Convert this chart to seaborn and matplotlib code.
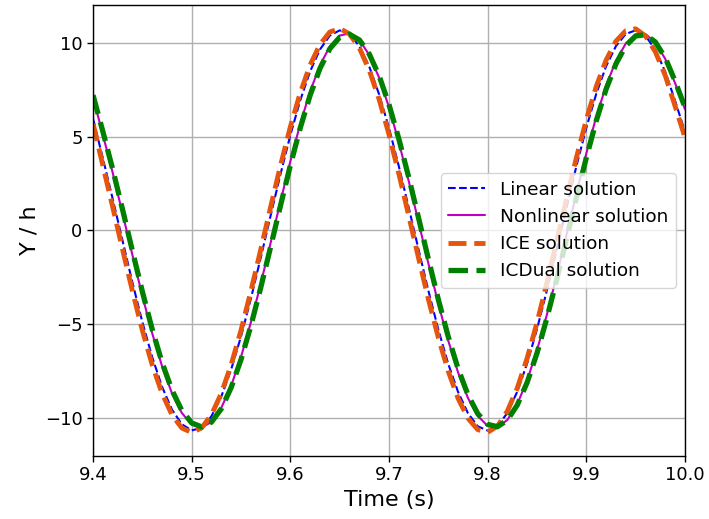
import numpy as np
import pandas as pd
import matplotlib
matplotlib.use("Agg")
import matplotlib.pyplot as plt
import seaborn as sns

# time samples (s), every 0.01 s from 9.40 to 10.00
time_s = np.round(np.linspace(9.40, 10.00, 61), 2)

linear_solution = [
    5.95, 3.84, 1.67, -0.56, -2.78, -4.87, -6.74, -8.32, -9.53, -10.31,
    -10.64, -10.50, -9.89, -8.84, -7.40, -5.64, -3.63, -1.45, 0.79, 2.99,
    5.07, 6.92, 8.46, 9.63, 10.37, 10.65, 10.46, 9.80, 8.72, 7.24,
    5.45, 3.41, 1.22, -1.02, -3.22, -5.27, -7.09, -8.59, -9.72, -10.42,
    -10.65, -10.41, -9.71, -8.58, -7.08, -5.25, -3.20, -1.00, 1.24, 3.43,
    5.46, 7.26, 8.73, 9.81, 10.46, 10.65, 10.36, 9.62, 8.45, 6.90,
    5.25,
]

nonlinear_solution = [
    7.10, 5.09, 3.06, 0.89, -1.32, -3.48, -5.47, -7.23, -8.66, -9.71,
    -10.33, -10.49, -10.19, -9.44, -8.27, -6.73, -4.89, -2.84, -0.66, 1.54,
    3.68, 5.66, 7.39, 8.79, 9.79, 10.37, 10.49, 10.14, 9.34, 8.13,
    6.56, 4.69, 2.63, 0.44, -1.77, -3.89, -5.85, -7.55, -8.91, -9.87,
    -10.40, -10.47, -10.08, -9.24, -7.98, -6.38, -4.49, -2.41, -0.22, 1.99,
    4.10, 6.03, 7.70, 9.02, 9.95, 10.43, 10.45, 10.01, 9.13, 7.84,
    6.45,
]

ice_solution = [
    5.70, 3.45, 1.24, -1.02, -3.23, -5.31, -7.15, -8.67, -9.81, -10.51,
    -10.75, -10.51, -9.81, -8.67, -7.15, -5.31, -3.23, -1.02, 1.24, 3.45,
    5.51, 7.32, 8.80, 9.90, 10.56, 10.75, 10.46, 9.71, 8.53, 6.98,
    5.11, 3.02, 0.79, -1.47, -3.67, -5.70, -7.48, -8.93, -9.99, -10.60,
    -10.74, -10.41, -9.61, -8.39, -6.80, -4.91, -2.80, -0.56, 1.70, 3.88,
    5.89, 7.65, 9.06, 10.07, 10.63, 10.73, 10.35, 9.51, 8.25, 6.62,
    4.95,
]

icdual_solution = [
    7.20, 5.26, 3.25, 1.10, -1.10, -3.25, -5.26, -7.03, -8.49, -9.58,
    -10.24, -10.45, -10.20, -9.49, -8.36, -6.87, -5.07, -3.04, -0.88, 1.32,
    3.46, 5.45, 7.19, 8.62, 9.67, 10.28, 10.44, 10.14, 9.39, 8.23,
    6.70, 4.87, 2.83, 0.66, -1.54, -3.67, -5.64, -7.35, -8.74, -9.75,
    -10.32, -10.44, -10.09, -9.29, -8.09, -6.53, -4.67, -2.61, -0.44, 1.76,
    3.87, 5.82, 7.51, 8.86, 9.83, 10.35, 10.42, 10.03, 9.19, 7.95,
    6.55,
]

series_labels = ["Linear solution", "Nonlinear solution", "ICE solution", "ICDual solution"]
x_ticks = [9.4, 9.5, 9.6, 9.7, 9.8, 9.9, 10.0]
y_ticks = [-10, -5, 0, 5, 10]

sns.set_style("white")
plt.rcParams["font.family"] = ["DejaVu Sans"]
plt.rcParams["axes.unicode_minus"] = True
plt.rcParams["text.color"] = "black"
plt.rcParams["axes.labelcolor"] = "black"

fig = plt.figure(figsize=(7.09, 5.19), dpi=100)
ax = fig.add_axes([0.1312, 0.1214, 0.8349, 0.8690])

styles = [
    dict(color="blue", linestyle="--", linewidth=1.5),
    dict(color="m", linestyle="-", linewidth=1.5),
    dict(color="#e6550d", linestyle="--", linewidth=3.5),
    dict(color="green", linestyle="--", linewidth=3.8),
]
all_series = [linear_solution, nonlinear_solution, ice_solution, icdual_solution]

for lab, vals, st in zip(series_labels, all_series, styles):
    df = pd.DataFrame({"t": time_s, "y": vals})
    sns.lineplot(data=df, x="t", y="y", ax=ax, label=lab, **st)

ax.set_xlim(9.4, 10.0)
ax.set_ylim(-12, 12)
ax.set_xticks(x_ticks)
ax.set_xticklabels([f"{v:.1f}" for v in x_ticks])
ax.set_yticks(y_ticks)
ax.tick_params(axis="both", which="major", bottom=True, left=True, labelsize=13,
               direction="out", length=4, width=1, colors="black")
ax.grid(True, color="#b0b0b0", linewidth=1.0)
for sp in ax.spines.values():
    sp.set_color("black")
    sp.set_linewidth(1.0)
ax.set_xlabel("Time (s)", fontsize=16, color="black")
ax.set_ylabel("Y / h", fontsize=16, color="black")

leg = ax.legend(loc="center right", fontsize=13.3, frameon=True, framealpha=0.8,
                edgecolor="#cccccc", fancybox=True, handlelength=2.0)
for t in leg.get_texts():
    t.set_color("black")

fig.savefig("out.png", dpi=100)
